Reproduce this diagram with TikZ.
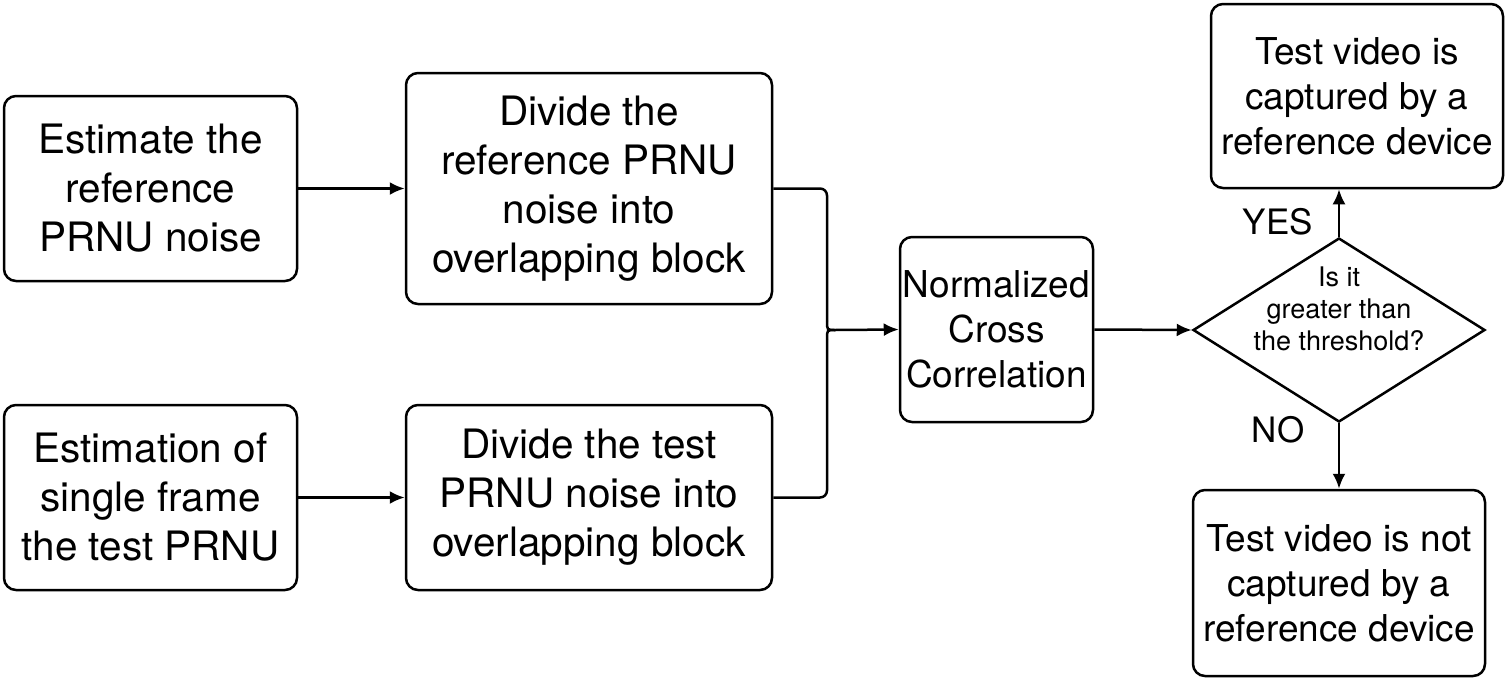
\documentclass[tikz,border=0pt]{standalone}
\usepackage{fontspec}
\setmainfont{TeX Gyre Heros}
\usetikzlibrary{shapes.geometric,arrows.meta}
\begin{document}
\begin{tikzpicture}[x=1pt,y=-1pt,
  box/.style={draw,line width=2.5pt,rounded corners=12pt,align=center,inner sep=0pt,
    font=\fontsize{40.5}{49}\selectfont},
  sbox/.style={box,font=\fontsize{37}{45}\selectfont},
  arr/.style={line width=2.5pt,-{Latex[length=15pt,width=13pt]}},
  con/.style={line width=2.5pt},
  lbl/.style={font=\fontsize{35}{42}\selectfont,inner sep=0pt}]
\useasboundingbox (0,0) rectangle (1507,680);
\node[box,minimum width=293pt,minimum height=185pt] (b1) at (150.5,188.5) {Estimate the\\reference\\PRNU noise};
\node[box,minimum width=366pt,minimum height=231pt] (b2) at (589,188.5) {Divide the\\reference PRNU\\noise into\\overlapping block};
\node[box,minimum width=293pt,minimum height=185pt] (b3) at (150.5,497.5) {Estimation of\\single frame\\the test PRNU};
\node[box,minimum width=366pt,minimum height=185pt] (b4) at (589,497.5) {Divide the test\\PRNU noise into\\overlapping block};
\node[sbox,minimum width=193pt,minimum height=185pt] (ncc) at (996.5,329.5) {Normalized\\Cross\\Correlation};
\node[draw,diamond,line width=2.5pt,inner sep=0pt,minimum width=292pt,minimum height=184pt] (dia) at (1339,330) {};
\node[align=center,inner sep=0pt,font=\fontsize{27}{32}\selectfont] (dtxt) at (1339,309) {Is it\\greater than\\the threshold?};
\node[sbox,minimum width=292pt,minimum height=184pt] (top) at (1357,96) {Test video is\\captured by a\\reference device};
\node[sbox,minimum width=292pt,minimum height=186pt] (bot) at (1339,583) {Test video is not\\captured by a\\reference device};
\node[lbl] (yes) at (1278,222) {YES};
\node[lbl] (no) at (1278,430) {NO};
\coordinate (tip) at (835,330);
\coordinate (ta) at (827,321);
\coordinate (tb) at (827,339);
\draw[arr] (b1.east) -- (b2.west);
\draw[arr] (b3.east) -- (b4.west);
\draw[con,rounded corners=7pt] (b2.east) -| (ta);
\draw[con] (ta) .. controls (827,330) .. (tip);
\draw[con,rounded corners=7pt] (b4.east) -| (tb);
\draw[con] (tb) .. controls (827,330) .. (tip);
\draw[arr] (tip) -- (ncc.west);
\draw[arr] (ncc.east) -- (dia.west);
\draw[arr] (dia.north) -- (dia.north |- top.south);
\draw[arr] (dia.south) -- (bot.north);
\end{tikzpicture}
\end{document}
